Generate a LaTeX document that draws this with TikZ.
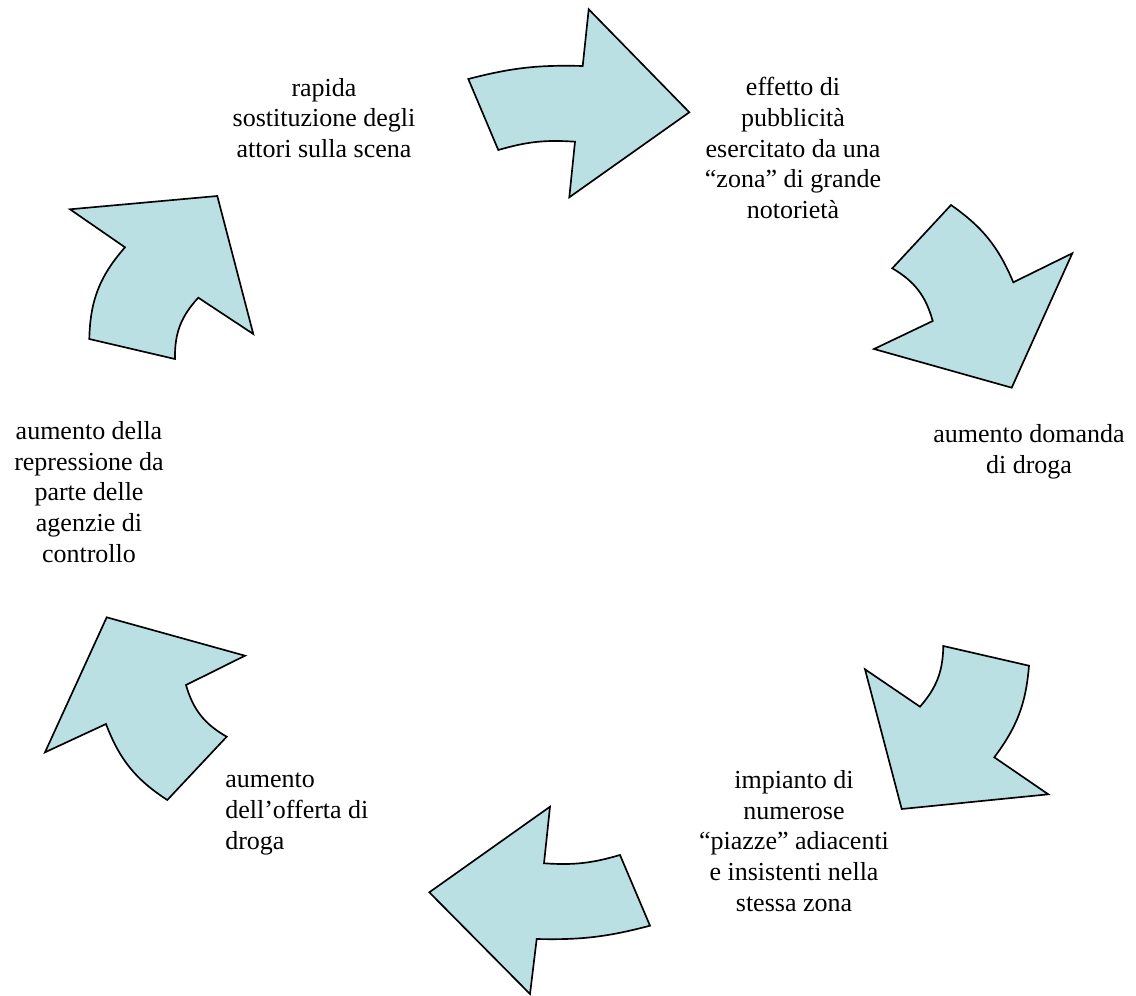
\documentclass[tikz,border=0pt]{standalone}
\usepackage{fontspec}
\setmainfont{Liberation Serif}
\definecolor{arrowfill}{RGB}{187,224,227}
\begin{document}
\begin{tikzpicture}[x=0.75pt,y=0.75pt,
  arr/.style={fill=arrowfill,draw=black,line width=1.25pt,line join=miter},
  lbl/.style={font=\fontsize{19.5}{23}\selectfont,align=center,inner sep=0pt}]
\useasboundingbox (0,0) rectangle (1136,-996);
% arrows
\draw[arr] (468.3,-79) to[bend left=8] (582.7,-66) -- (588.7,-9.3) -- (689.3,-112.3) -- (569.3,-197.3) -- (575,-141.7) to[bend right=10] (498.3,-150) -- cycle;
\draw[arr] (951,-205) to[bend left=16] (1013.3,-282.3) -- (1072.3,-253.3) -- (1011.7,-387.7) -- (874,-349) -- (932.7,-321) to[bend right=22] (892.3,-268.3) -- cycle;
\draw[arr] (1029,-665.7) to[bend left=16] (994.3,-757.3) -- (1048.3,-794.3) -- (901.7,-809) -- (865,-669.3) -- (920,-706.7) to[bend right=20] (943.3,-646) -- cycle;
\draw[arr] (550,-806.7) -- (544,-863.3) to[bend right=10] (620,-855) -- (650,-925.7) to[bend left=8] (536.7,-939) -- (530,-994) -- (429.3,-892.3) -- cycle;
\draw[arr] (106.7,-617.3) -- (245,-655.7) -- (186,-685) to[bend right=22] (226.7,-736.7) -- (167.3,-800) to[bend left=18] (106,-724) -- (45,-752.3) -- cycle;
\draw[arr] (70,-209.3) -- (217.3,-196) -- (253.3,-334) -- (198.3,-297.7) to[bend right=22] (175,-359) -- (89.3,-339) to[bend left=20] (125,-247.3) -- cycle;
% labels
\node[lbl] (t1) at (324,-118) {rapida\\sostituzione degli\\attori sulla scena};
\node[lbl] (t2) at (793,-148) {effetto di\\pubblicità\\esercitato da una\\“zona” di grande\\notorietà};
\node[lbl] (t3) at (1029,-452) {aumento domanda\\di droga};
\node[lbl] (t4) at (794,-841) {impianto di\\numerose\\“piazze” adiacenti\\e insistenti nella\\stessa zona};
\node[lbl,align=left,anchor=west] (t5) at (225,-814) {aumento\\dell’offerta di\\droga};
\node[lbl] (t6) at (89,-492) {aumento della\\repressione da\\parte delle\\agenzie di\\controllo};
\end{tikzpicture}
\end{document}
